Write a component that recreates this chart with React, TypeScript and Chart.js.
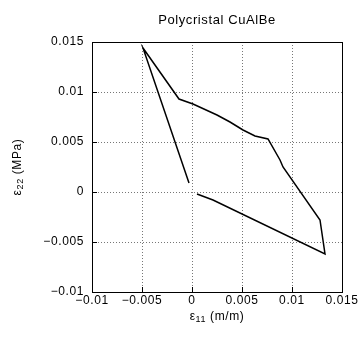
import React, { useEffect, useRef } from "react";
import { Chart, registerables } from "chart.js";

Chart.register(...registerables);

const strainX = [0.0005, 0.0021, 0.0133, 0.0128, 0.0091, 0.0088, 0.0076, 0.0063, 0.0051, 0.0038, 0.0025, 0.0001, -0.0013, -0.0049, -0.0003];
const strainY = [-0.0002, -0.0008, -0.0062, -0.0028, 0.0025, 0.0032, 0.0053, 0.0056, 0.0062, 0.0070, 0.0077, 0.0088, 0.0093, 0.0144, 0.0009];

const xTickValues = [-0.01, -0.005, 0, 0.005, 0.01, 0.015];
const xTickLabels = ["\u22120.01", "\u22120.005", "0", "0.005", "0.01", "0.015"];
const yTickValues = [-0.01, -0.005, 0, 0.005, 0.01, 0.015];
const yTickLabels = ["\u22120.01", "\u22120.005", "0", "0.005", "0.01", "0.015"];

const titleText = "Polycristal CuAlBe";
const FONT = "'Liberation Sans', Arial, sans-serif";

function drawSubLabel(ctx: CanvasRenderingContext2D, base: string, sub: string, rest: string, cx: number, cy: number) {
  ctx.font = `12px ${FONT}`;
  const wBase = ctx.measureText(base).width;
  ctx.font = `9px ${FONT}`;
  const wSub = ctx.measureText(sub).width;
  ctx.font = `12px ${FONT}`;
  const wRest = ctx.measureText(rest).width;
  const total = wBase + wSub + wRest;
  let x = cx - total / 2;
  ctx.textBaseline = "middle";
  ctx.textAlign = "left";
  ctx.fillStyle = "#000";
  ctx.font = `12px ${FONT}`;
  ctx.fillText(base, x, cy);
  x += wBase;
  ctx.font = `9px ${FONT}`;
  ctx.fillText(sub, x, cy + 3);
  x += wSub;
  ctx.font = `12px ${FONT}`;
  ctx.fillText(rest, x, cy);
}

const spacingPlugin = {
  id: "spacing",
  beforeDraw(chart: any) {
    (chart.ctx as any).letterSpacing = "0.6px";
  },
};

const decorPlugin = {
  id: "decor",
  afterDraw(chart: any) {
    const { ctx, chartArea } = chart;
    const { left, right, top, bottom } = chartArea;
    ctx.save();
    ctx.strokeStyle = "#000";
    ctx.lineWidth = 1;
    ctx.strokeRect(Math.round(left) + 0.5, Math.round(top) + 0.5, Math.round(right - left), Math.round(bottom - top));
    const xs = chart.scales.x;
    const ys = chart.scales.y;
    ctx.beginPath();
    xTickValues.forEach((v) => {
      const px = Math.round(xs.getPixelForValue(v)) + 0.5;
      ctx.moveTo(px, bottom);
      ctx.lineTo(px, bottom - 5);
    });
    yTickValues.forEach((v) => {
      const py = Math.round(ys.getPixelForValue(v)) + 0.5;
      ctx.moveTo(left, py);
      ctx.lineTo(left + 5, py);
    });
    ctx.stroke();
    ctx.fillStyle = "#000";
    ctx.font = `13px ${FONT}`;
    ctx.textAlign = "center";
    ctx.textBaseline = "middle";
    ctx.fillText(titleText, (left + right) / 2, 20);
    drawSubLabel(ctx, "\u03b5", "11", " (m/m)", (left + right) / 2, 317);
    ctx.translate(18, (top + bottom) / 2);
    ctx.rotate(-Math.PI / 2);
    drawSubLabel(ctx, "\u03b5", "22", " (MPa)", 0, 0);
    ctx.restore();
  },
};

export default function App() {
  const ref = useRef<HTMLCanvasElement>(null);
  useEffect(() => {
    if (!ref.current) return;
    const data = strainX.map((x, i) => ({ x, y: strainY[i] }));
    const chart = new Chart(ref.current, {
      type: "scatter",
      data: {
        datasets: [
          {
            data,
            showLine: true,
            borderColor: "#000",
            borderWidth: 1.5,
            pointRadius: 0,
            fill: false,
            tension: 0,
          },
        ],
      },
      options: {
        responsive: false,
        animation: false,
        layout: { padding: { top: 42, right: 21, left: 0, bottom: 0 } },
        plugins: { legend: { display: false }, title: { display: false }, tooltip: { enabled: false } },
        scales: {
          x: {
            type: "linear",
            min: -0.01,
            max: 0.015,
            afterBuildTicks: (s: any) => {
              s.ticks = xTickValues.map((v) => ({ value: v }));
            },
            afterFit: (s: any) => {
              s.height = 46;
            },
            ticks: {
              callback: (_v: any, i: number) => xTickLabels[i],
              color: "#000",
              font: { family: FONT, size: 12 },
              padding: 1,
              maxRotation: 0,
              autoSkip: false,
            },
            grid: { color: "#777", drawTicks: false, tickLength: 0 },
            border: { display: false, dash: [1, 2] },
          },
          y: {
            type: "linear",
            min: -0.01,
            max: 0.015,
            afterBuildTicks: (s: any) => {
              s.ticks = yTickValues.map((v) => ({ value: v }));
            },
            afterFit: (s: any) => {
              s.width = 92;
            },
            ticks: {
              callback: (_v: any, i: number) => yTickLabels[i],
              color: "#000",
              font: { family: FONT, size: 12 },
              padding: 8,
              autoSkip: false,
            },
            grid: { color: "#777", drawTicks: false, tickLength: 0 },
            border: { display: false, dash: [1, 2] },
          },
        },
      } as any,
      plugins: [spacingPlugin, decorPlugin],
    });
    return () => chart.destroy();
  }, []);
  return (
    <div style={{ position: "fixed", left: 0, top: 0, width: 363, height: 338, background: "#fff" }}>
      <canvas ref={ref} width={363} height={338} style={{ width: 363, height: 338 }} />
    </div>
  );
}
